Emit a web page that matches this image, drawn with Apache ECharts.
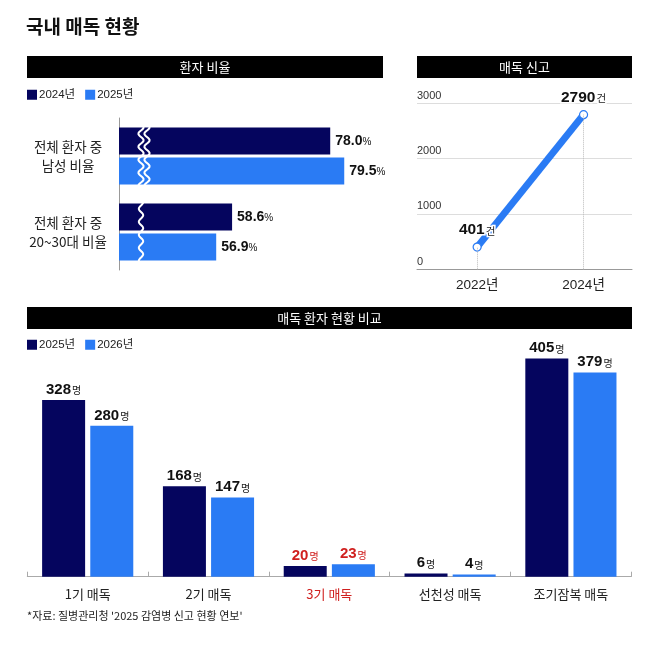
<!DOCTYPE html>
<html>
<head>
<meta charset="utf-8">
<script src="https://cdn.jsdelivr.net/npm/echarts@6/dist/echarts.min.js"></script>
<style>
html,body{margin:0;padding:0;background:#fff;}
#c{width:658px;height:662px;}
</style>
</head>
<body>
<div id="c"></div>
<script>
// ---- data ----
const ratioCategories = ['전체 환자 중\n남성 비율', '전체 환자 중\n20~30대 비율'];
const ratio2024 = [78.0, 58.6];
const ratio2025 = [79.5, 56.9];

const reportYears = [2022, 2024];
const reportCounts = [401, 2790];
const reportTicks = [0, 1000, 2000, 3000];

const typeCategories = ['1기 매독', '2기 매독', '3기 매독', '선천성 매독', '조기잠복 매독'];
const patients2025 = [328, 168, 20, 6, 405];
const patients2026 = [280, 147, 23, 4, 379];
const highlightCategories = ['3기 매독'];

// ---- style ----
const NAVY = '#05055e';
const BLUE = '#2a7bf4';
const RED = '#d0201f';
const FONT = "'Liberation Sans', 'Noto Sans CJK KR', sans-serif";
const KFONT = "'Noto Sans CJK KR', 'Liberation Sans', sans-serif";

const chart = echarts.init(document.getElementById('c'), null, {renderer: 'canvas'});

// broken-axis minimums for the two ratio rows (scale shared)
const ratioMin = [55.4, 46.5];
const ratioSpan = 26;

function header(x, y, w, h, text) {
  return {
    type: 'group',
    children: [
      {type: 'rect', shape: {x: x, y: y, width: w, height: h}, style: {fill: '#000'}},
      {type: 'text', x: x + w / 2, y: y + h / 2,
       style: {text: text, fill: '#fff', font: "13px " + KFONT, align: 'center', verticalAlign: 'middle'}}
    ]
  };
}
function wave(xc, y0, y1, amp) {
  const pts = [];
  for (let y = y0; y <= y1; y += 1) {
    pts.push([xc + amp * Math.sin((y - y0) / 13 * 2 * Math.PI), y]);
  }
  return {type: 'polyline', z: 100, shape: {points: pts},
          style: {stroke: '#fff', lineWidth: 2, fill: null}};
}

const ratioGrids = [0, 1].map(i => ({left: 119, top: 118 + i * 76, width: 243, height: 76}));
const ratioX = [0, 1].map(i => ({
  type: 'value', gridIndex: i, min: ratioMin[i], max: ratioMin[i] + ratioSpan, show: false
}));
const ratioY = [0, 1].map(i => ({
  type: 'category', gridIndex: i, data: [ratioCategories[i]], inverse: true,
  axisLine: {show: true, lineStyle: {color: '#999', width: 1}},
  axisTick: {show: false},
  axisLabel: {margin: 51, align: 'center', fontSize: 13.5, lineHeight: 19, color: '#222', fontFamily: KFONT}
}));
const ratioLabel = {
  show: true, position: 'right', distance: 5,
  formatter: p => '{n|' + p.value.toFixed(1) + '}{u|%}',
  rich: {
    n: {fontSize: 14, fontWeight: 'bold', color: '#111', fontFamily: FONT},
    u: {fontSize: 10, color: '#111', fontFamily: FONT, padding: [2, 0, 0, 0]}
  }
};
const ratioSeries = [];
[0, 1].forEach(i => {
  ratioSeries.push({
    type: 'bar', name: '2024년', xAxisIndex: i, yAxisIndex: i, data: [ratio2024[i]],
    barWidth: 27, barGap: '12%', itemStyle: {color: NAVY}, label: ratioLabel, silent: true
  });
  ratioSeries.push({
    type: 'bar', name: '2025년', xAxisIndex: i, yAxisIndex: i, data: [ratio2025[i]],
    barWidth: 27, barGap: '12%', itemStyle: {color: BLUE}, label: ratioLabel, silent: true
  });
});

const numRich = {
  n: {fontSize: 15, fontWeight: 'bold', color: '#111', fontFamily: FONT},
  u: {fontSize: 10, color: '#222', fontFamily: KFONT, padding: [2, 0, 0, 1]},
  nr: {fontSize: 15, fontWeight: 'bold', color: RED, fontFamily: FONT},
  ur: {fontSize: 10, color: RED, fontFamily: KFONT, padding: [2, 0, 0, 1]}
};
function patientLabel(p) {
  const red = highlightCategories.indexOf(typeCategories[p.dataIndex]) >= 0;
  return red ? '{nr|' + p.value + '}{ur|명}' : '{n|' + p.value + '}{u|명}';
}

const option = {
  animation: false,
  textStyle: {fontFamily: FONT},
  title: {
    text: '국내 매독 현황', left: 26, top: 17, padding: 0,
    textStyle: {fontSize: 19, fontWeight: 'bold', color: '#111', fontFamily: KFONT}
  },
  legend: [
    {
      left: 27, top: 89, padding: 0, itemWidth: 10, itemHeight: 10, itemGap: 10, icon: 'rect', selectedMode: false,
      textStyle: {fontSize: 11.5, color: '#222', fontFamily: FONT, padding: [0, 0, 0, -3]},
      data: [{name: '2024년', itemStyle: {color: NAVY}}, {name: '2025년', itemStyle: {color: BLUE}}]
    },
    {
      left: 27, top: 339, padding: 0, itemWidth: 10, itemHeight: 10, itemGap: 10, icon: 'rect', selectedMode: false,
      textStyle: {fontSize: 11.5, color: '#222', fontFamily: FONT, padding: [0, 0, 0, -3]},
      data: [{name: '2025년', itemStyle: {color: NAVY}}, {name: '2026년', itemStyle: {color: BLUE}}]
    }
  ],
  grid: [
    ratioGrids[0], ratioGrids[1],
    {left: 417, top: 103, width: 215, height: 166.3},
    {left: 27.3, top: 334.3, width: 604, bottom: 85.3}
  ],
  xAxis: [
    ratioX[0], ratioX[1],
    {
      type: 'value', gridIndex: 2, min: 2020.87, max: 2024.91,
      axisLine: {show: true, lineStyle: {color: '#999'}},
      axisTick: {show: false}, splitLine: {show: false},
      axisLabel: {customValues: reportYears, formatter: v => v + '년', margin: 9,
                  fontSize: 13.5, color: '#222', fontFamily: FONT}
    },
    {
      type: 'category', gridIndex: 3, data: typeCategories,
      axisLine: {show: true, lineStyle: {color: '#aaa'}},
      axisTick: {show: true, inside: true, length: 5, lineStyle: {color: '#aaa'}},
      axisLabel: {margin: 11, fontSize: 13, fontFamily: KFONT,
                  color: (v) => highlightCategories.indexOf(v) >= 0 ? RED : '#222'}
    }
  ],
  yAxis: [
    ratioY[0], ratioY[1],
    {
      type: 'value', gridIndex: 2, min: reportTicks[0], max: reportTicks[reportTicks.length - 1], interval: 1000,
      axisLine: {show: false}, axisTick: {show: false},
      splitLine: {show: true, lineStyle: {color: '#ddd'}},
      axisLabel: {inside: true, margin: 0, align: 'left', verticalAlign: 'bottom', padding: [0, 0, 2, 0],
                  formatter: v => String(v),
                  fontSize: 11, color: '#333', fontFamily: FONT}
    },
    {type: 'value', gridIndex: 3, min: 0, max: 450, show: false}
  ],
  series: ratioSeries.concat([
    {
      type: 'line', xAxisIndex: 2, yAxisIndex: 2, silent: true,
      data: reportYears.map((y, i) => [y, reportCounts[i]]),
      lineStyle: {color: BLUE, width: 7},
      symbol: 'circle', symbolSize: 8,
      itemStyle: {color: '#fff', borderColor: BLUE, borderWidth: 1.2},
      label: {show: true, position: 'top', distance: 5,
              formatter: p => '{n|' + p.value[1] + '}{u|건}',
              rich: {
                n: {fontSize: 15.5, fontWeight: 'bold', color: '#111', fontFamily: FONT, textBorderColor: '#fff', textBorderWidth: 3},
                u: {fontSize: 10.5, color: '#222', fontFamily: KFONT, padding: [2, 0, 0, 1], textBorderColor: '#fff', textBorderWidth: 3}
              }},
      markLine: {
        silent: true, symbol: ['none', 'none'], label: {show: false},
        lineStyle: {type: 'dotted', color: '#bbb', width: 1},
        data: reportYears.map((y, i) => [{coord: [y, 0]}, {coord: [y, reportCounts[i]]}])
      },
      z: 3
    },
    {
      type: 'bar', name: '2025년', xAxisIndex: 3, yAxisIndex: 3, data: patients2025, silent: true,
      barWidth: 43, barGap: '12%', itemStyle: {color: NAVY},
      label: {show: true, position: 'top', distance: 3, formatter: patientLabel, rich: numRich}
    },
    {
      type: 'bar', name: '2026년', xAxisIndex: 3, yAxisIndex: 3, data: patients2026, silent: true,
      barWidth: 43, barGap: '12%', itemStyle: {color: BLUE},
      label: {show: true, position: 'top', distance: 3, formatter: patientLabel, rich: numRich}
    }
  ]),
  graphic: [
    header(27, 56, 356, 22, '환자 비율'),
    header(417, 56, 215, 22, '매독 신고'),
    header(27, 307, 605, 22, '매독 환자 현황 비교'),
    wave(141, 124, 188, 2.6), wave(147, 124, 188, 2.6),
    wave(141, 199, 263, 2.2),
    {type: 'text', left: 27, top: 610,
     style: {text: "*자료: 질병관리청 '2025 감염병 신고 현황 연보'", fill: '#222', font: "11px " + KFONT}}
  ]
};
chart.setOption(option);
</script>
</body>
</html>
